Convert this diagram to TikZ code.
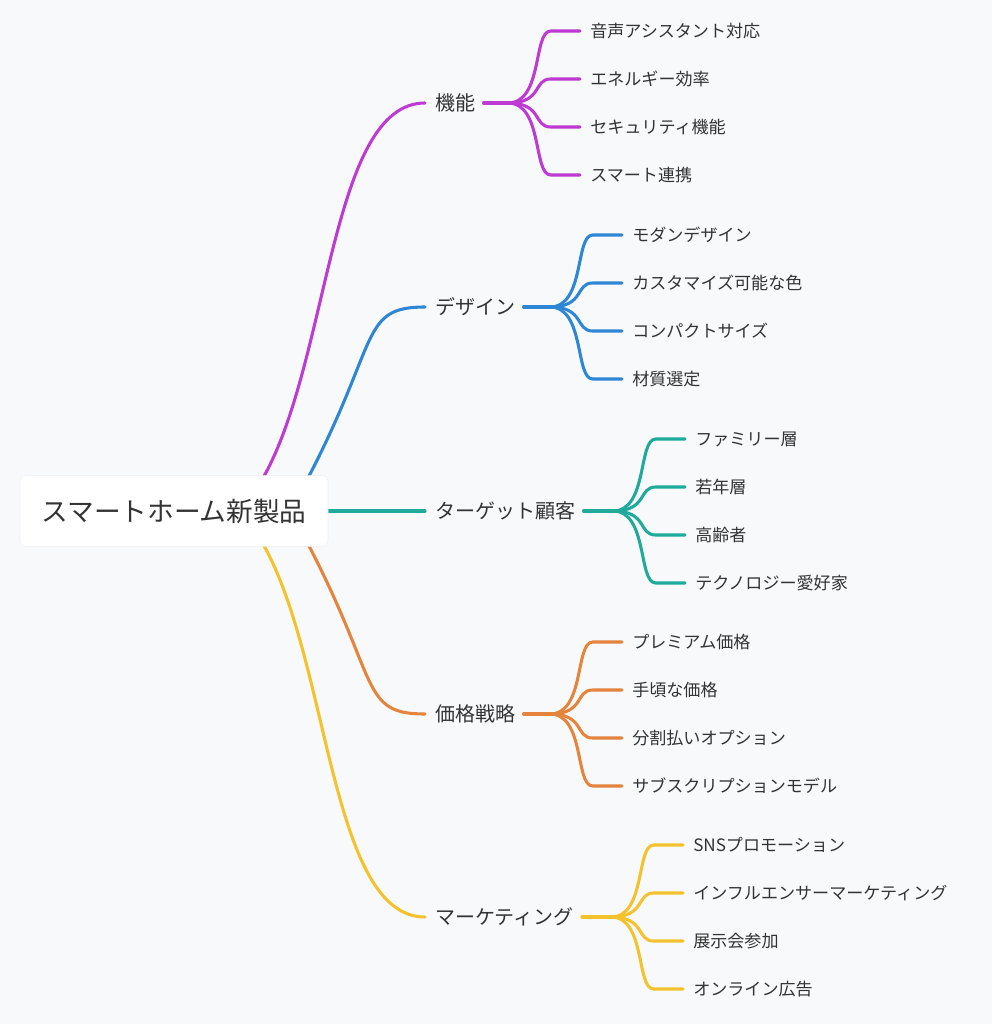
\documentclass[tikz,border=0pt]{standalone}
\usepackage{fontspec}
\setmainfont{Noto Sans CJK JP}
\begin{document}
\begin{tikzpicture}[x=0.75pt,y=-0.75pt,
  br/.style={anchor=west,inner sep=0pt,font=\fontsize{15}{18}\selectfont,text=black!80},
  lf/.style={anchor=west,inner sep=0pt,font=\fontsize{12.8}{15}\selectfont,text=black!80},
  ln/.style={line width=2.3pt,line cap=round}]
\definecolor{cP}{HTML}{BD3BD3}\definecolor{cB}{HTML}{2F86D5}\definecolor{cT}{HTML}{1FAA9B}
\definecolor{cO}{HTML}{E4843D}\definecolor{cY}{HTML}{F4C22D}
\fill[fill={rgb,255:red,248;green,249;blue,251}] (0,0) rectangle (992,1024);
\useasboundingbox (0,0) rectangle (992,1024);
\newcommand\mybranch[9]{%
  \node[br] (b#2) at (435,#2) {#3};
  \coordinate (e#2) at (425,#2);
  \coordinate (f#2) at (#4,#2);
  \draw[ln,#1] ([xshift=6pt]b#2.east) -- (f#2);
  \foreach \t [count=\i] in {#6,#7,#8,#9}{
    \pgfmathsetmacro\yy{#2-72+(\i-1)*48}
    \node[lf] (c#2\i) at (#5,\yy) {\t};
    \coordinate (k#2\i) at (#5-10,\yy);
    \draw[ln,#1] (f#2) .. controls (#4+35,#2) and (#4+25,\yy) .. ([xshift=-22pt]k#2\i) -- (k#2\i);
  }}
\mybranch{cP}{103}{機能}{508}{590}{音声アシスタント対応}{エネルギー効率}{セキュリティ機能}{スマート連携}
\mybranch{cB}{307}{デザイン}{550}{632}{モダンデザイン}{カスタマイズ可能な色}{コンパクトサイズ}{材質選定}
\mybranch{cT}{511}{ターゲット顧客}{613}{695}{ファミリー層}{若年層}{高齢者}{テクノロジー愛好家}
\mybranch{cO}{714}{価格戦略}{550}{632}{プレミアム価格}{手頃な価格}{分割払いオプション}{サブスクリプションモデル}
\mybranch{cY}{917}{マーケティング}{611}{693}{SNSプロモーション}{インフルエンサーマーケティング}{展示会参加}{オンライン広告}
\coordinate (r1) at (263,478);\coordinate (r2) at (308,478);\coordinate (r3) at (326,511);
\coordinate (r4) at (308,544);\coordinate (r5) at (263,544);
\draw[ln,cP] (r1) .. controls (330,360) and (330,103) .. (e103);
\draw[ln,cB] (r2) .. controls (380,340) and (360,307) .. (e307);
\draw[ln,cT] (r3) -- (e511);
\draw[ln,cO] (r4) .. controls (380,682) and (360,714) .. (e714);
\draw[ln,cY] (r5) .. controls (330,662) and (330,917) .. (e917);
\node[draw=black!6,fill=white,rounded corners=4pt,minimum width=231pt,minimum height=53pt,font=\fontsize{20}{24}\selectfont,text=black!80] (root) at (174,511) {スマートホーム新製品};
\end{tikzpicture}
\end{document}
